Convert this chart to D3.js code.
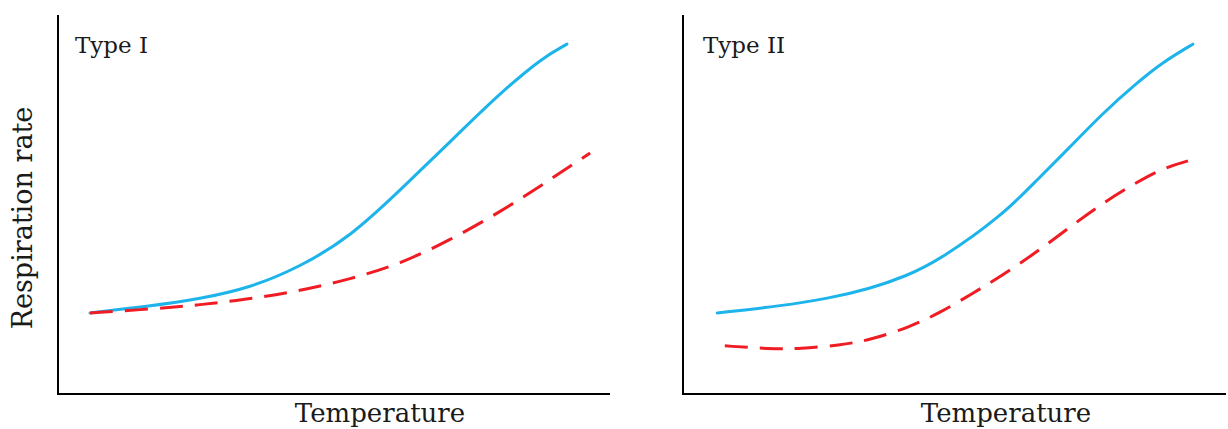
<!DOCTYPE html>
<html><head><meta charset="utf-8">
<script src="https://cdn.jsdelivr.net/npm/d3@7"></script>
<style>body{margin:0;background:#fff}svg{display:block}</style>
</head><body>
<svg id="c" width="1228" height="429"></svg>
<script>
// Data (arbitrary units: temperature 0-10, respiration rate 0-10)
const panelTitles = ["Type I", "Type II"];
const xLabel = "Temperature";
const yLabel = "Respiration rate";

const t1BlueTemp = [0.58, 1.67, 2.57, 3.48, 4.38, 5.29, 6.20, 7.10, 8.01, 8.79, 9.22];
const t1Blue     = [2.14, 2.32, 2.51, 2.80, 3.35, 4.14, 5.38, 6.65, 7.94, 8.89, 9.23];
const t1RedTemp  = [0.58, 1.67, 2.57, 3.48, 4.38, 5.29, 6.20, 7.10, 8.01, 8.91, 9.64];
const t1Red      = [2.14, 2.24, 2.35, 2.51, 2.72, 3.03, 3.43, 4.06, 4.80, 5.65, 6.36];

const t2BlueTemp = [0.63, 1.79, 2.71, 3.44, 4.10, 4.73, 5.89, 6.52, 7.13, 7.73, 8.36, 8.84, 9.39];
const t2Blue     = [2.14, 2.32, 2.53, 2.78, 3.10, 3.54, 4.72, 5.65, 6.52, 7.41, 8.21, 8.76, 9.23];
const t2RedTemp  = [0.77, 1.60, 2.15, 2.89, 3.44, 4.18, 4.73, 5.34, 5.89, 6.52, 7.13, 7.73, 8.36, 8.84, 9.30];
const t2Red      = [1.27, 1.19, 1.19, 1.29, 1.42, 1.77, 2.14, 2.66, 3.14, 3.75, 4.41, 5.04, 5.59, 5.96, 6.15];

const panels = [
  {title: panelTitles[0], x0: 58, x1: 610, blue: t1BlueTemp.map((t,i)=>[t,t1Blue[i]]), red: t1RedTemp.map((t,i)=>[t,t1Red[i]]), labelX: 380},
  {title: panelTitles[1], x0: 683, x1: 1226, blue: t2BlueTemp.map((t,i)=>[t,t2Blue[i]]), red: t2RedTemp.map((t,i)=>[t,t2Red[i]]), labelX: 1006}
];

const svg = d3.select("#c");
const plotTop = 15, plotBottom = 394;
const font = "'DejaVu Serif', serif";

panels.forEach((p, k) => {
  const x = d3.scaleLinear().domain([0,10]).range([p.x0, p.x1]);
  const y = d3.scaleLinear().domain([0,10]).range([plotBottom, plotTop]);
  const g = svg.append("g");
  g.append("path")
    .attr("d", `M${x(0)},${y(10)}V${y(0)}H${x(10)}`)
    .attr("fill","none").attr("stroke","#000").attr("stroke-width",2);
  const line = d3.line().x(d=>x(d[0])).y(d=>y(d[1])).curve(d3.curveBasis);
  g.append("path").attr("d", line(p.blue))
    .attr("fill","none").attr("stroke","#1cb4ea").attr("stroke-width",3).attr("stroke-linecap","round");
  g.append("path").attr("d", line(p.red))
    .attr("fill","none").attr("stroke","#f01c24").attr("stroke-width",3)
    .attr("stroke-dasharray","23,12");
  g.append("text").attr("x", p.x0 + (k===0?17:20)).attr("y", 53)
    .attr("font-family", font).attr("font-size", 23).attr("fill","#1a1a1a").text(p.title);
  g.append("text").attr("x", p.labelX).attr("y", 422).attr("text-anchor","middle")
    .attr("font-family", font).attr("font-size", 26).attr("fill","#1a1a1a").text(xLabel);
});

svg.append("text").attr("transform","translate(32,218) rotate(-90)")
  .attr("text-anchor","middle").attr("font-family", font).attr("font-size", 27)
  .attr("fill","#1a1a1a").text(yLabel);
</script>
</body></html>
